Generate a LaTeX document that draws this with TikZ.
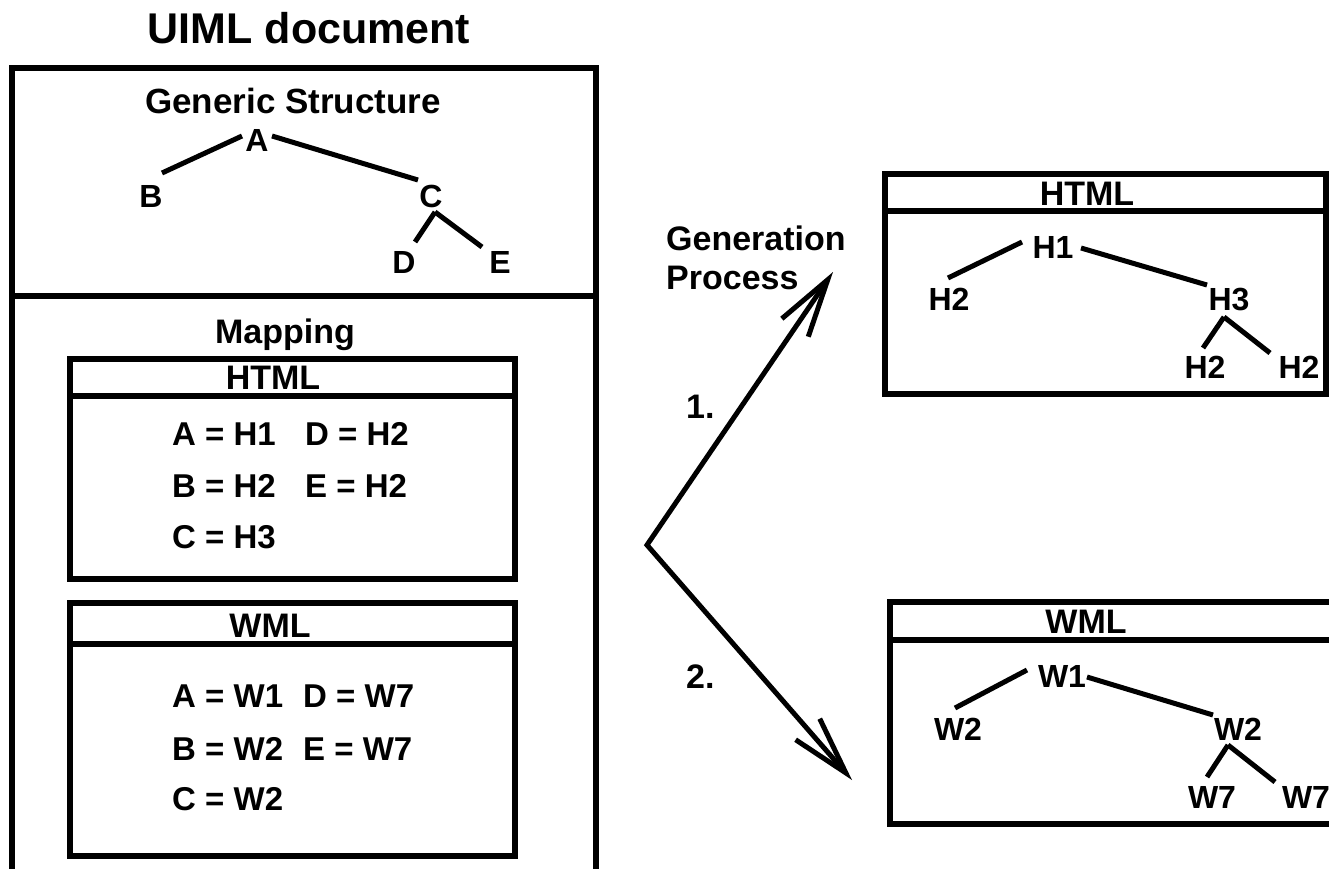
\documentclass[tikz,border=0pt]{standalone}
\usepackage{fontspec}
\setmainfont{Liberation Sans}
\usetikzlibrary{arrows.meta}

\tikzset{
  frame/.style={line width=5.5pt, line join=miter},
  edge/.style={line width=5pt},
  flow/.style={line width=5pt, line join=miter,
    {Straight Barb[length=58pt,width=32pt]}-{Straight Barb[length=58pt,width=32pt]}},
  txt/.style={inner sep=0pt, anchor=base, font=\bfseries\fontsize{#1}{#1}\selectfont},
  txt/.default=32,
  row/.style={inner sep=0pt, anchor=base west, font=\bfseries\fontsize{33}{33}\selectfont},
  note/.style={inner sep=0pt, anchor=base west, font=\bfseries\fontsize{34}{34}\selectfont},
}

\begin{document}
\begin{tikzpicture}[x=1pt, y=-1pt]
\useasboundingbox (0,0) rectangle (1329,869);
\clip (0,0) rectangle (1329,869);

% ---------- UIML document ----------
\node[txt=43] (title) at (309,44) {UIML document};
\draw[frame] (12,875) -- (12,68) -- (596,68) -- (596,875);
\draw[frame] (12,296) -- (596,296);

% generic structure tree
\node[txt=35] (gen) at (293,114) {Generic Structure};
\node[txt] (A) at (257,152) {A};
\node[txt] (B) at (151,207) {B};
\node[txt] (C) at (431,207) {C};
\node[txt] (D) at (404,273) {D};
\node[txt] (E) at (500,273) {E};
\draw[edge] ([shift={(11,-34)}]B.base) -- ([shift={(-15,-16)}]A.base);
\draw[edge] ([shift={(15,-16)}]A.base) -- ([shift={(-13,-27)}]C.base);
\draw[edge] ([shift={(4,5)}]C.base) -- ([shift={(11,-31)}]D.base);
\draw[edge] ([shift={(4,5)}]C.base) -- ([shift={(-18,-26)}]E.base);

% mapping part
\node[txt=34] (map) at (285,343) {Mapping};

\draw[frame] (70,359) rectangle (515,579);
\draw[frame] (70,396) -- (515,396);
\node[txt=34] (mhtml) at (273,389) {HTML};
\node[row] (mh1) at (172,445) {\makebox[133pt][l]{A = H1}D = H2};
\node[row] (mh2) at (172,497) {\makebox[133pt][l]{B = H2}E = H2};
\node[row] (mh3) at (172,548) {C = H3};

\draw[frame] (70,603) rectangle (515,856);
\draw[frame] (70,644) -- (515,644);
\node[txt=34] (mwml) at (270,637) {WML};
\node[row] (mw1) at (172,707) {\makebox[131pt][l]{A = W1}D = W7};
\node[row] (mw2) at (172,760) {\makebox[131pt][l]{B = W2}E = W7};
\node[row] (mw3) at (172,810) {C = W2};

% ---------- generation process ----------
\node[note] (gp1) at (666,250) {Generation};
\node[note] (gp2) at (666,289) {Process};
\node[note] (n1) at (686,418) {1.};
\node[note] (n2) at (686,688) {2.};
\coordinate (fork) at (647,545);
\coordinate (tip1) at (833,272);
\coordinate (tip2) at (852,780);
\draw[flow] (tip1) -- (fork) -- (tip2);

% ---------- generated HTML ----------
\draw[frame] (885,174) rectangle (1326,394);
\draw[frame] (885,211) -- (1326,211);
\node[txt=34] (rhtml) at (1087,205) {HTML};
\node[txt] (H1) at (1053,258) {H1};
\node[txt] (H2a) at (949,310) {H2};
\node[txt] (H3) at (1229,310) {H3};
\node[txt] (H2b) at (1205,378) {H2};
\node[txt] (H2c) at (1299,378) {H2};
\draw[edge] ([shift={(-1,-32)}]H2a.base) -- ([shift={(-31,-16)}]H1.base);
\draw[edge] ([shift={(28,-10)}]H1.base) -- ([shift={(-22,-25)}]H3.base);
\draw[edge] ([shift={(-5,7)}]H3.base) -- ([shift={(-2,-30)}]H2b.base);
\draw[edge] ([shift={(-5,7)}]H3.base) -- ([shift={(-29,-25)}]H2c.base);

% ---------- generated WML ----------
\draw[frame] (1340,602) -- (890,602) -- (890,824) -- (1340,824);
\draw[frame] (890,640) -- (1340,640);
\node[txt=34] (rwml) at (1086,633) {WML};
\node[txt] (W1) at (1062,687) {W1};
\node[txt] (W2a) at (958,740) {W2};
\node[txt] (W2b) at (1238,740) {W2};
\node[txt] (W7a) at (1212,808) {W7};
\node[txt] (W7b) at (1306,808) {W7};
\draw[edge] ([shift={(-3,-32)}]W2a.base) -- ([shift={(-35,-17)}]W1.base);
\draw[edge] ([shift={(25,-10)}]W1.base) -- ([shift={(-25,-25)}]W2b.base);
\draw[edge] ([shift={(-10,5)}]W2b.base) -- ([shift={(-5,-31)}]W7a.base);
\draw[edge] ([shift={(-10,5)}]W2b.base) -- ([shift={(-31,-26)}]W7b.base);
\end{tikzpicture}
\end{document}
